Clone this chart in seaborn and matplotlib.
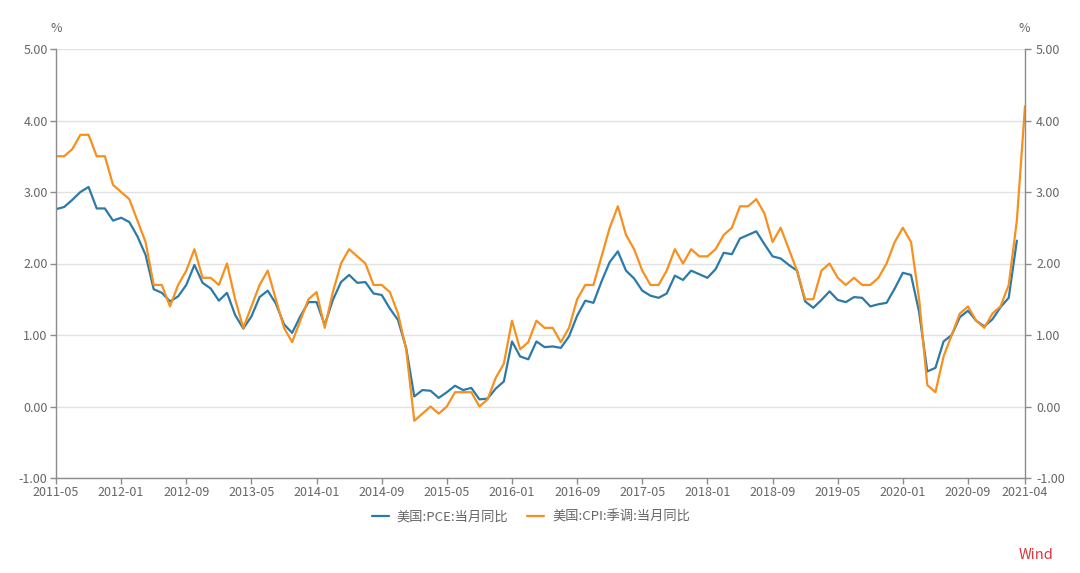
import matplotlib
matplotlib.use("Agg")
import matplotlib.pyplot as plt
import numpy as np
import pandas as pd
import seaborn as sns

# monthly series, 2011-05 .. 2021-04
months = pd.period_range("2011-05", "2021-04", freq="M").strftime("%Y-%m").tolist()

pce = [2.76, 2.79, 2.89, 3.00, 3.07, 2.77, 2.77, 2.60, 2.64, 2.58,
       2.38, 2.12, 1.64, 1.59, 1.47, 1.54, 1.70, 1.98, 1.73, 1.65,
       1.48, 1.59, 1.28, 1.09, 1.26, 1.53, 1.62, 1.44, 1.15, 1.03,
       1.26, 1.46, 1.46, 1.14, 1.49, 1.74, 1.84, 1.73, 1.74, 1.58,
       1.56, 1.37, 1.21, 0.82, 0.14, 0.23, 0.22, 0.12, 0.20, 0.29,
       0.23, 0.26, 0.10, 0.11, 0.25, 0.35, 0.91, 0.70, 0.66, 0.91,
       0.83, 0.84, 0.82, 0.98, 1.27, 1.48, 1.45, 1.75, 2.02, 2.17,
       1.90, 1.79, 1.62, 1.55, 1.52, 1.58, 1.83, 1.77, 1.90, 1.85,
       1.80, 1.92, 2.15, 2.13, 2.35, 2.40, 2.45, 2.27, 2.10, 2.07,
       1.98, 1.90, 1.47, 1.38, 1.49, 1.61, 1.49, 1.46, 1.53, 1.52,
       1.40, 1.43, 1.45, 1.65, 1.87, 1.84, 1.32, 0.49, 0.54, 0.91,
       1.00, 1.25, 1.34, 1.20, 1.12, 1.22, 1.39, 1.52, 2.32, np.nan]

cpi = [3.5, 3.5, 3.6, 3.8, 3.8, 3.5, 3.5, 3.1, 3.0, 2.9,
       2.6, 2.3, 1.7, 1.7, 1.4, 1.7, 1.9, 2.2, 1.8, 1.8,
       1.7, 2.0, 1.5, 1.1, 1.4, 1.7, 1.9, 1.5, 1.1, 0.9,
       1.2, 1.5, 1.6, 1.1, 1.6, 2.0, 2.2, 2.1, 2.0, 1.7,
       1.7, 1.6, 1.3, 0.8, -0.2, -0.1, 0.0, -0.1, 0.0, 0.2,
       0.2, 0.2, 0.0, 0.1, 0.4, 0.6, 1.2, 0.8, 0.9, 1.2,
       1.1, 1.1, 0.9, 1.1, 1.5, 1.7, 1.7, 2.1, 2.5, 2.8,
       2.4, 2.2, 1.9, 1.7, 1.7, 1.9, 2.2, 2.0, 2.2, 2.1,
       2.1, 2.2, 2.4, 2.5, 2.8, 2.8, 2.9, 2.7, 2.3, 2.5,
       2.2, 1.9, 1.5, 1.5, 1.9, 2.0, 1.8, 1.7, 1.8, 1.7,
       1.7, 1.8, 2.0, 2.3, 2.5, 2.3, 1.5, 0.3, 0.2, 0.7,
       1.0, 1.3, 1.4, 1.2, 1.1, 1.3, 1.4, 1.7, 2.6, 4.2]

names = ["美国:PCE:当月同比", "美国:CPI:季调:当月同比"]
colors = ["#2b7aa8", "#f7901e"]
y_ticks = [-1, 0, 1, 2, 3, 4, 5]

df = pd.DataFrame({"idx": range(len(months)), names[0]: pce, names[1]: cpi})
long_df = df.melt(id_vars="idx", var_name="series", value_name="value").dropna()

sns.set_theme(style="white")
plt.rcParams["font.family"] = ["Noto Sans CJK SC", "DejaVu Sans"]

fig = plt.figure(figsize=(10.8, 5.73), dpi=100)
ax = fig.add_axes([56 / 1080, 1 - 478 / 573, (1025 - 56) / 1080, (478 - 49) / 573])

sns.lineplot(data=long_df, x="idx", y="value", hue="series", hue_order=names,
             palette=colors, linewidth=1.6, ax=ax)

grey_txt = "#666666"
axis_col = "#8c8c8c"

ax.set_xlim(0, len(months) - 1)
ax.set_ylim(-1, 5)
ax.set_yticks(y_ticks)
ax.set_yticklabels([f"{v:.2f}" for v in y_ticks])
tick_pos = list(range(0, len(months), 8)) + [len(months) - 1]
ax.set_xticks(tick_pos)
ax.set_xticklabels([months[i] for i in tick_pos])
ax.set_xlabel("")
ax.set_ylabel("")
ax.grid(axis="y", color="#e2e2e2", linewidth=1)
ax.set_axisbelow(True)

for side in ["top", "right"]:
    ax.spines[side].set_visible(False)
for side in ["left", "bottom"]:
    ax.spines[side].set_color(axis_col)
    ax.spines[side].set_linewidth(1)
ax.tick_params(axis="both", colors=axis_col, labelcolor=grey_txt, labelsize=9,
               length=4, width=1, direction="out", bottom=True, left=True, pad=2)

# right-hand axis, same scale
ax2 = ax.twinx()
ax2.set_ylim(-1, 5)
ax2.set_yticks(y_ticks)
ax2.set_yticklabels([f"{v:.2f}" for v in y_ticks])
for side in ["top", "left", "bottom"]:
    ax2.spines[side].set_visible(False)
ax2.spines["right"].set_color(axis_col)
ax2.spines["right"].set_linewidth(1)
ax2.grid(False)
ax2.tick_params(axis="y", colors=axis_col, labelcolor=grey_txt, labelsize=9,
                length=4, width=1, direction="out", right=True, pad=4)

fig.text(56 / 1080, 1 - 29 / 573, "%", ha="center", va="center", fontsize=9, color=grey_txt)
fig.text(1024 / 1080, 1 - 29 / 573, "%", ha="center", va="center", fontsize=9, color=grey_txt)

sns.move_legend(ax, "center", bbox_to_anchor=(0.49, -0.091), ncol=2, frameon=False,
                title=None, fontsize=9.5, handlelength=1.3, handletextpad=0.6,
                columnspacing=1.4)
for t in ax.get_legend().get_texts():
    t.set_color(grey_txt)

fig.text(1036 / 1080, 1 - 555 / 573, "Wind", ha="center", va="center",
         fontsize=10.5, color="#e0353d")

fig.savefig("out.png", dpi=100)
